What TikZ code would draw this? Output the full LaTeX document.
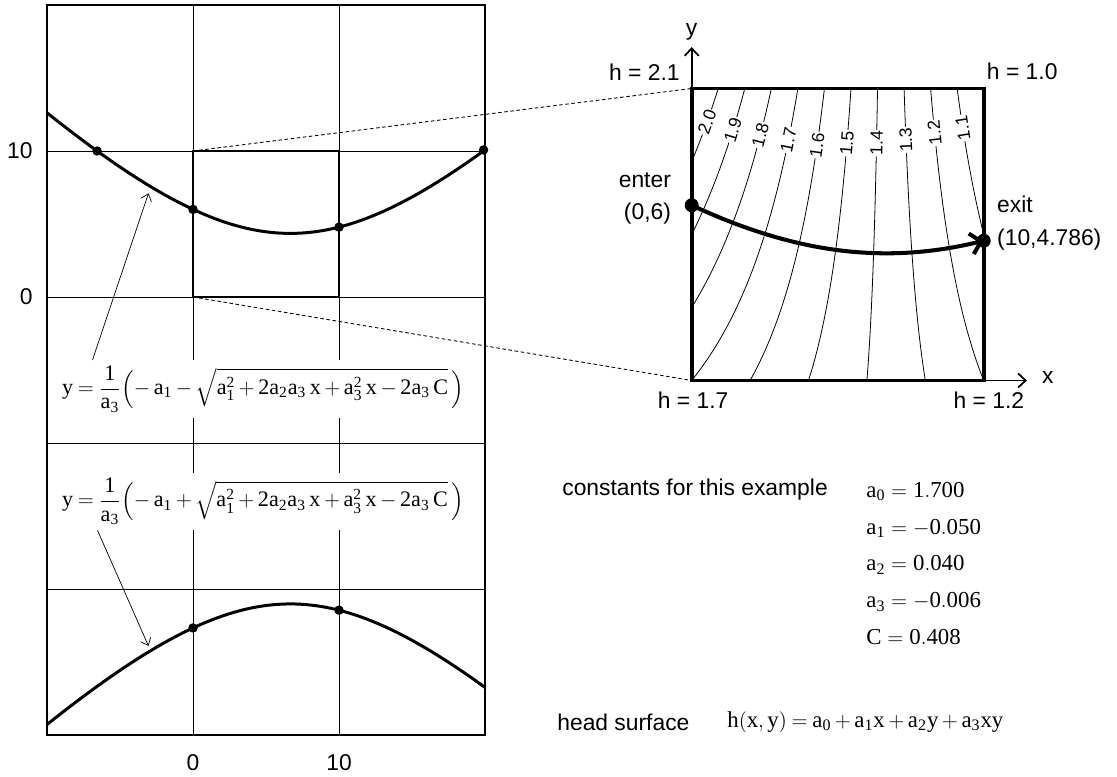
\documentclass[tikz,border=0pt]{standalone}
\usepackage{amsmath}
\usepackage{fontspec}
\setmainfont{Liberation Sans}
\setmathrm{Liberation Serif}
\usetikzlibrary{arrows.meta}
\newcommand{\tightops}{\medmuskip=3mu\relax\thickmuskip=4mu\relax}

\begin{document}
\begin{tikzpicture}[font=\fontsize{13}{15.6}\selectfont, inner sep=0pt,
        declare function={disc(\x)=sqrt(73.96-4.8*\x+0.36*\x*\x);}]
        \tikzstyle{grid}=[line width=0.4pt]
        \tikzstyle{frame}=[line width=1.1pt]
        \tikzstyle{branch}=[line width=1.7pt]
        \tikzstyle{dot}=[circle, fill, inner sep=0pt, minimum size=0.19cm]
        \tikzstyle{bigdot}=[circle, fill, inner sep=0pt, minimum size=0.28cm]
        \tikzstyle{formula}=[fill=white, inner sep=3pt, anchor=west,
            font=\fontsize{12.6}{15}\selectfont\tightops]
        \tikzstyle{pointer}=[line width=0.4pt, -{Straight Barb[length=1.3mm,width=2.2mm]}]
        \tikzstyle{axis}=[line width=1pt, -{Straight Barb[length=1.5mm,width=2.8mm]}]
        \tikzstyle{contour}=[line width=0.45pt]
        \tikzstyle{contlabel}=[fill=white, inner sep=0.6pt, font=\fontsize{10}{11}\selectfont]
        \tikzstyle{zoomline}=[line width=0.5pt, dash pattern=on 2pt off 1.5pt]

        \useasboundingbox (0,0) rectangle (22.34,15.54);

        % left plot
        \begin{scope}[shift={(3.86,9.60)}, x=0.292cm, y=0.292cm]
        \foreach \gx in {0,10}
            \draw[grid] (\gx,-30) -- (\gx,20);
        \foreach \gy in {-20,-10,0,10}
            \draw[grid] (-10,\gy) -- (20,\gy);

        \node[formula] (fup) at (-9.35,-6.3)
            {$\mathrm{y=\dfrac{1}{a_3}\!\left(-\,a_1-\sqrt{a_1^2+2a_2a_3\,x+a_3^2\,x-2a_3\,C}\,\right)}$};
        \node[formula] (flo) at (-9.35,-14.0)
            {$\mathrm{y=\dfrac{1}{a_3}\!\left(-\,a_1+\sqrt{a_1^2+2a_2a_3\,x+a_3^2\,x-2a_3\,C}\,\right)}$};

        \draw[frame] (-10,-30) rectangle (20,20);
        \draw[line width=1.4pt] (0,0) rectangle (10,10);
        \coordinate (zoomSW) at (0,0);
        \coordinate (zoomNW) at (0,10);

        \draw[branch] plot[domain=-10:20, samples=61, smooth] (\x,{(disc(\x)-5)/0.6});
        \draw[branch] plot[domain=-10:20, samples=61, smooth] (\x,{-(disc(\x)+5)/0.6});

        \node[dot] (u1) at (-6.57,10) {};
        \node[dot] (u2) at (0,6) {};
        \node[dot] (u3) at (10,4.786) {};
        \node[dot] (u4) at (19.9,10.07) {};
        \node[dot] (l1) at (0,-22.67) {};
        \node[dot] (l2) at (10,-21.45) {};

        \coordinate (cup) at (-3.05,7.1);
        \coordinate (clo) at (-3.05,-23.9);
        \draw[pointer] ([xshift=0.72cm]fup.north west) -- (cup);
        \draw[pointer] ([xshift=0.82cm]flo.south west) -- (clo);

        \node[anchor=east] (ly10) at (-10.96,10) {10};
        \node[anchor=east] (ly0) at (-10.96,0) {0};
        \node (lx0) at (0,-31.9) {0};
        \node (lx10) at (10,-31.9) {10};
        \end{scope}

        % right plot
        \begin{scope}[shift={(13.834,7.93)}, x=0.584cm, y=0.584cm]
        \begin{scope}
            \clip (0,0) rectangle (10,10);
            \foreach \c/\yl [count=\i] in {2.0/8.85, 1.9/8.58, 1.8/8.41, 1.7/8.24, 1.6/8.06,
                    1.5/8.13, 1.4/8.13, 1.3/8.24, 1.2/8.48, 1.1/8.65} {
                \draw[contour] plot[domain=0:10, samples=30, smooth]
                    ({(1700+40*\x-1000*\c)/(50+6*\x)},\x);
                \pgfmathsetmacro\xl{(1700+40*\yl-1000*\c)/(50+6*\yl)}
                \pgfmathsetmacro\ang{atan2(1,(6000*\c-8200)/((50+6*\yl)^2))}
                \node[contlabel, rotate=\ang] (lab\i) at (\xl,\yl) {\c};
            }
        \end{scope}

        \draw[line width=2.2pt] (0,0) rectangle (10,10);
        \coordinate (boxSW) at (0,0);
        \coordinate (boxNW) at (0,10);
        \coordinate (ytip) at (0,11.42);
        \coordinate (xtip) at (11.48,0);
        \draw[axis] (boxSW) -- (ytip);
        \draw[axis] (boxSW) -- (xtip);
        \node (ylbl) at (0,11.95) {y};
        \node (xlbl) at (12.2,0.12) {x};

        \node[bigdot] (enter) at (0,6) {};
        \node[bigdot] (exit) at (10,4.786) {};
        \draw[line width=2.3pt, -{Straight Barb[length=2mm,width=4.2mm]}]
            plot[domain=0:10, samples=30, smooth] (\x,{(disc(\x)-5)/0.6});

        \node[anchor=east] (h21) at (-0.4,10.55) {h = 2.1};
        \node[anchor=west] (h10) at (10.1,10.6) {h = 1.0};
        \node (h17) at (0.05,-0.67) {h = 1.7};
        \node (h12) at (10.18,-0.67) {h = 1.2};
        \node[align=right, anchor=east] (enterlbl) at (-0.7,6.23) {enter\\[3pt](0,6)};
        \node[align=left, anchor=west] (exitlbl) at (10.45,5.4) {exit\\[3pt](10,4.786)};
        \end{scope}

        \draw[zoomline] (zoomNW) -- (boxNW);
        \draw[zoomline] (zoomSW) -- (boxSW);

        % constants and surface
        \node[anchor=west] (constlbl) at (11.24,5.74) {constants for this example};
        \node[anchor=north west, align=left, font=\fontsize{13}{20.9}\selectfont] (consts) at (17.32,5.90)
            {$\mathrm{a_0 = 1.700}$\\ $\mathrm{a_1 = -0.050}$\\ $\mathrm{a_2 = 0.040}$\\
             $\mathrm{a_3 = -0.006}$\\ $\mathrm{C = 0.408}$};
        \node[anchor=west] (headlbl) at (11.14,1.10) {head surface};
        \node[anchor=west, font=\fontsize{13}{15.6}\selectfont\tightops] (headeq) at (14.54,1.10)
            {$\mathrm{h(x,y) = a_0 + a_1x + a_2y + a_3xy}$};
    \end{tikzpicture}
\end{document}
